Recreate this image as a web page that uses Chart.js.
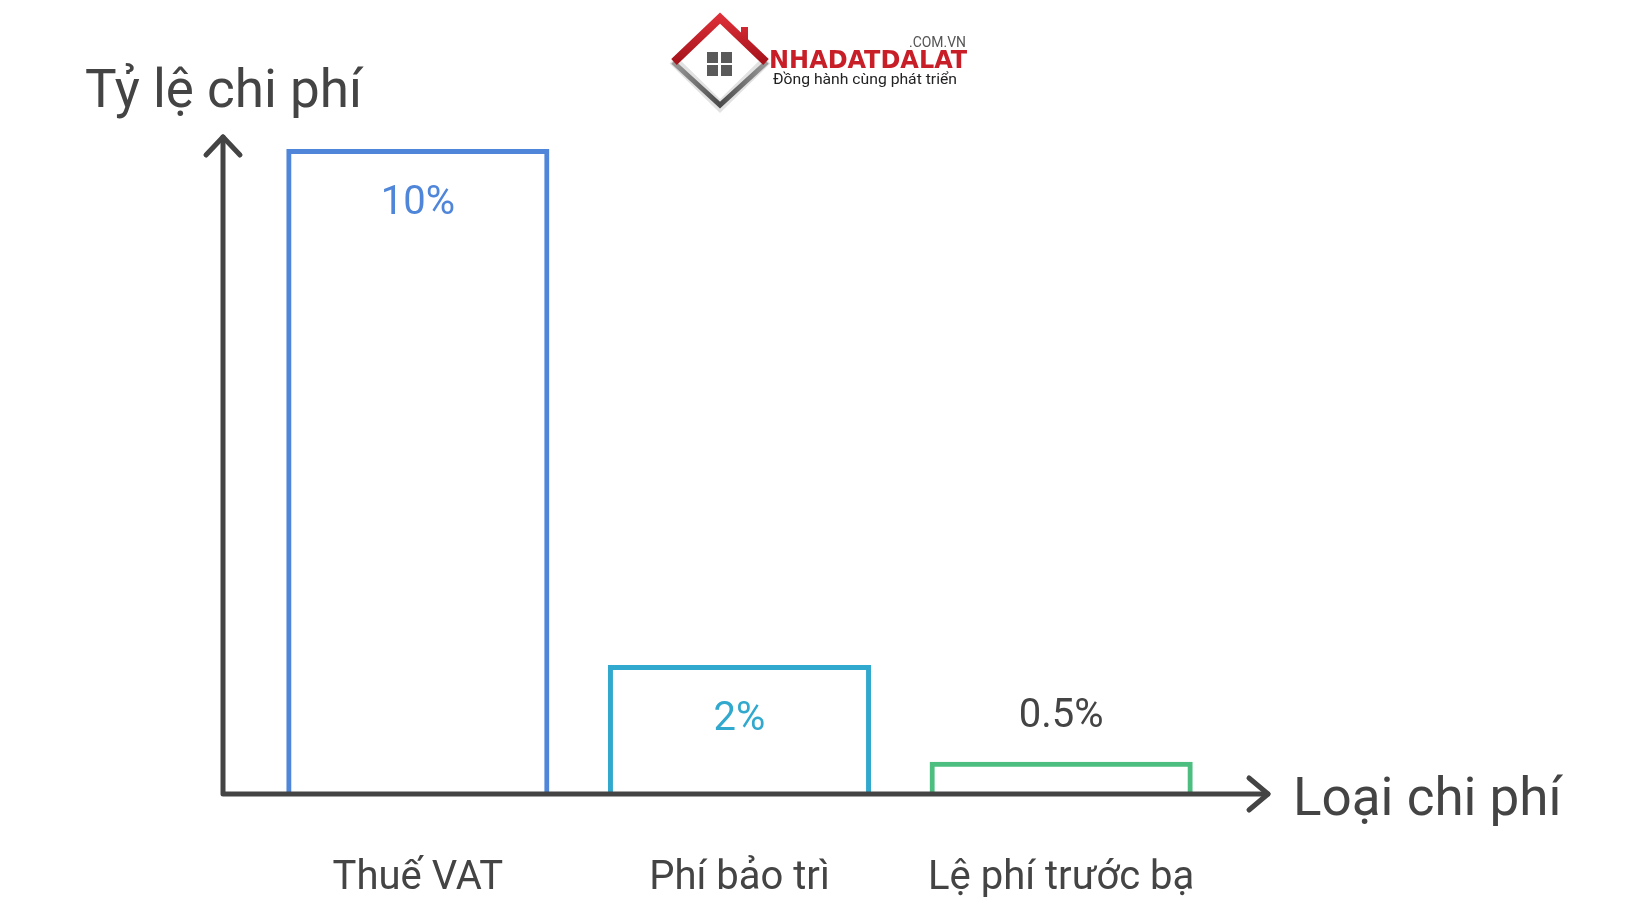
<!DOCTYPE html>
<html lang="vi">
<head>
<meta charset="utf-8">
<title>Tỷ lệ chi phí</title>
<script src="https://cdn.jsdelivr.net/npm/chart.js@4.4.1/dist/chart.umd.min.js"></script>
<style>
  html, body { margin: 0; padding: 0; background: #ffffff; }
  #wrap { position: relative; width: 1640px; height: 924px; }
</style>
</head>
<body>
<div id="wrap"><canvas id="chiPhiChart"></canvas></div>
<script>
// Dữ liệu của biểu đồ
const categories = ["Thuế VAT", "Phí bảo trì", "Lệ phí trước bạ"];
const values = [10, 2, 0.5];
const valueLabels = ["10%", "2%", "0.5%"];
const yTitle = "Tỷ lệ chi phí";
const xTitle = "Loại chi phí";

// Màu sắc
const barColors = ["#4f86d9", "#31a8cd", "#4cbf80"];
const axisColor = "#444444";
const textColor = "#444444";
const FONT = "Roboto, 'Noto Sans', sans-serif";

// Vẽ chữ co giãn theo chiều ngang cho vừa độ rộng
function fitText(ctx, text, x, y, width) {
  const w = ctx.measureText(text).width;
  ctx.save();
  ctx.translate(x, y);
  ctx.scale(width / w, 1);
  ctx.fillText(text, 0, 0);
  ctx.restore();
}

// Vẽ trục có mũi tên, nhãn và logo
const decorPlugin = {
  id: "decor",
  afterDatasetsDraw(chart) {
    const ctx = chart.ctx;
    const area = chart.chartArea;
    const xs = chart.scales.x;
    const ys = chart.scales.y;
    const baseY = ys.getPixelForValue(0);
    const axisX = area.left - 34;
    const topY = area.top - 12;
    const rightX = area.right + 46;

    ctx.save();
    ctx.strokeStyle = axisColor;
    ctx.lineWidth = 5;
    ctx.lineCap = "round";
    ctx.lineJoin = "round";
    // trục tung + trục hoành
    ctx.beginPath();
    ctx.moveTo(axisX, topY);
    ctx.lineTo(axisX, baseY);
    ctx.lineTo(rightX, baseY);
    ctx.stroke();
    // mũi tên
    ctx.beginPath();
    ctx.moveTo(axisX - 17, topY + 18);
    ctx.lineTo(axisX, topY);
    ctx.lineTo(axisX + 17, topY + 18);
    ctx.moveTo(rightX - 19, baseY - 16);
    ctx.lineTo(rightX, baseY);
    ctx.lineTo(rightX - 19, baseY + 16);
    ctx.stroke();

    // nhãn giá trị
    const meta = chart.getDatasetMeta(0);
    ctx.font = "40px " + FONT;
    ctx.textAlign = "center";
    ctx.textBaseline = "middle";
    meta.data.forEach((bar, i) => {
      const h = bar.base - bar.y;
      if (h > 100) {
        ctx.fillStyle = barColors[i];
        ctx.fillText(valueLabels[i], bar.x, bar.y + 55);
      } else {
        ctx.fillStyle = textColor;
        ctx.fillText(valueLabels[i], bar.x, bar.y - 45);
      }
    });

    // nhãn danh mục
    ctx.fillStyle = textColor;
    categories.forEach((c, i) => {
      ctx.fillText(c, xs.getPixelForValue(i), baseY + 85);
    });

    // tiêu đề trục
    ctx.font = "53px " + FONT;
    ctx.textAlign = "left";
    ctx.textBaseline = "alphabetic";
    ctx.fillText(yTitle, 85, 107);
    ctx.fillText(xTitle, rightX + 25, baseY + 21);

    drawLogo(ctx);
    ctx.restore();
  }
};

function drawLogo(ctx) {
  const L = [673, 60], T = [720, 14], R = [767, 60], B = [720, 106];
  ctx.save();
  ctx.lineCap = "butt";
  ctx.lineJoin = "miter";
  // phần dưới (xám)
  ctx.strokeStyle = "#e2e2e2";
  ctx.lineWidth = 10;
  ctx.beginPath();
  ctx.moveTo(L[0], L[1]); ctx.lineTo(B[0], B[1]); ctx.lineTo(R[0], R[1]);
  ctx.stroke();
  const g1 = ctx.createLinearGradient(L[0], 60, R[0], 60);
  g1.addColorStop(0, "#9a9a9a");
  g1.addColorStop(0.5, "#4a4a4a");
  g1.addColorStop(1, "#9a9a9a");
  ctx.strokeStyle = g1;
  ctx.lineWidth = 5;
  ctx.beginPath();
  ctx.moveTo(L[0], L[1] + 2); ctx.lineTo(B[0], B[1] - 1); ctx.lineTo(R[0], R[1] + 2);
  ctx.stroke();
  // mái nhà (đỏ)
  const g2 = ctx.createLinearGradient(0, T[1], 0, L[1]);
  g2.addColorStop(0, "#e0303a");
  g2.addColorStop(1, "#a8141c");
  ctx.fillStyle = g2;
  ctx.fillRect(741, 27, 7, 16);
  ctx.strokeStyle = g2;
  ctx.lineWidth = 8;
  ctx.beginPath();
  ctx.moveTo(L[0] + 1, L[1] + 2); ctx.lineTo(T[0], T[1] + 4); ctx.lineTo(R[0] - 1, R[1] + 2);
  ctx.stroke();
  // cửa sổ
  ctx.fillStyle = "#5a5a5a";
  ctx.fillRect(707, 52, 11, 11);
  ctx.fillRect(721, 52, 11, 11);
  ctx.fillRect(707, 65, 11, 11);
  ctx.fillRect(721, 65, 11, 11);
  // chữ
  ctx.textBaseline = "alphabetic";
  ctx.textAlign = "left";
  ctx.fillStyle = "#555555";
  ctx.font = "14px " + FONT;
  fitText(ctx, ".COM.VN", 909, 47, 57);
  ctx.fillStyle = "#c81e28";
  ctx.font = "bold 25px 'Liberation Sans Narrow', 'DejaVu Sans Condensed', sans-serif";
  fitText(ctx, "NHADATDALAT", 769, 68, 198);
  ctx.fillStyle = "#222222";
  ctx.font = "15px " + FONT;
  fitText(ctx, "Đồng hành cùng phát triển", 773, 84, 184);
  ctx.restore();
}

const ctx = document.getElementById("chiPhiChart").getContext("2d");
const chiPhiChart = new Chart(ctx, {
  type: "bar",
  data: {
    labels: categories,
    datasets: [{
      label: yTitle,
      data: values,
      backgroundColor: "rgba(255,255,255,0)",
      borderColor: barColors,
      borderWidth: 5,
      borderSkipped: "start",
      categoryPercentage: 1,
      barPercentage: 0.818
    }]
  },
  options: {
    responsive: true,
    maintainAspectRatio: false,
    animation: false,
    layout: { padding: { left: 257, right: 418, top: 149, bottom: 130 } },
    scales: {
      x: { display: false, grid: { display: false } },
      y: { display: false, min: 0, max: 10, grid: { display: false } }
    },
    plugins: {
      legend: { display: false },
      tooltip: { enabled: false }
    }
  },
  plugins: [decorPlugin]
});
</script>
</body>
</html>
